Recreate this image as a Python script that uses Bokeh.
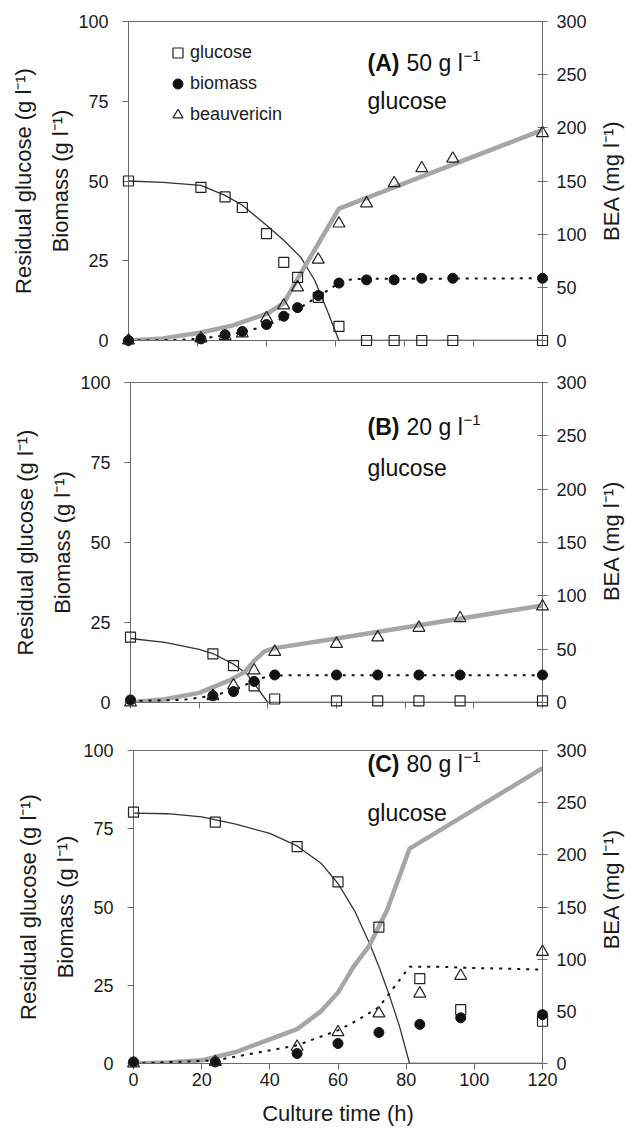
import math
from bokeh.plotting import figure
from bokeh.models import Range1d, LinearAxis, FixedTicker, Label, Legend, LegendItem
from bokeh.layouts import column, row
from bokeh.embed import file_html
from bokeh.resources import INLINE

# ---------------- data ----------------
# Panel A (50 g/l glucose)
tA = [0, 21, 28, 33, 40, 45, 49, 55, 61, 69, 77, 85, 94, 120]
glcA = [50, 48, 45, 41.7, 33.5, 24.5, 19.8, 13.5, 4.4, 0, 0, 0, 0, 0]
bioA = [0, 0.5, 1.8, 2.8, 5, 7.6, 10.3, 14.1, 18, 19, 19, 19.5, 19.5, 19.5]
beaA = [0, 2, 4, 6.6, 21, 33, 50, 76, 110, 129, 148, 162, 171, 195]
mA_glc_t = [0, 10, 21, 28, 33, 40, 45, 50, 54, 57.6, 61, 120]
mA_glc = [50, 49.6, 48.6, 45.5, 42.4, 36.1, 31.4, 26, 18.8, 9.4, 0, 0]
mA_bio_t = [0, 15, 21, 28, 33, 40, 45, 49, 55, 61, 65, 120]
mA_bio = [0, 0.2, 0.6, 1.6, 2.6, 4.6, 7.2, 9.8, 13.8, 18, 19.3, 19.5]
mA_bea_t = [0, 10, 21, 30, 40, 45, 49, 55, 61, 120]
mA_bea = [0, 2, 7.5, 14, 25, 35, 58, 91, 124, 198]

# Panel B (20 g/l glucose)
tB = [0, 24, 30, 36, 42, 60, 72, 84, 96, 120]
glcB = [20.4, 15.2, 11.5, 5.2, 1.1, 0.5, 0.5, 0.5, 0.5, 0.5]
bioB = [0.8, 2.1, 3.4, 6.6, 8.6, 8.6, 8.6, 8.6, 8.6, 8.6]
beaB = [0, 6, 16, 30, 47.5, 55, 61, 70, 79, 90]
mB_glc_t = [0, 10, 20, 24, 30, 34, 37, 40, 120]
mB_glc = [20, 18.8, 16.6, 15.3, 12, 8.8, 4.5, 0, 0]
mB_bio_t = [0, 15, 20, 24, 30, 36, 40, 45, 120]
mB_bio = [0.5, 0.8, 1.5, 2.2, 3.8, 6.8, 8.2, 8.5, 8.5]
mB_bea_t = [0, 10, 20, 29, 33, 36, 39, 42, 60, 120]
mB_bea = [0, 3, 9, 21, 28, 39, 48, 51, 60, 91]

# Panel C (80 g/l glucose)
tC = [0, 24, 48, 60, 72, 84, 96, 120]
glcC = [80.3, 77.1, 69.3, 58, 43.6, 27.1, 17.2, 13.5]
bioC = [0.5, 0.5, 3.2, 6.4, 9.9, 12.5, 14.6, 15.6]
beaC = [0, 1.5, 16, 30, 48, 67, 84, 107]
mC_glc_t = [0, 10, 20, 30, 40, 48, 55, 60, 65, 69, 72, 75, 78, 80, 81, 120]
mC_glc = [80, 79.8, 78.8, 76.5, 73.5, 69.5, 64, 57.5, 48.5, 39, 31, 22, 12, 4, 0, 0]
mC_bio_t = [0, 24, 48, 60, 66, 72, 78, 81, 90, 100, 110, 120]
mC_bio = [0, 1, 5.8, 10.6, 14, 18, 26.6, 30.9, 30.9, 30.5, 30.3, 30]
mC_bea_t = [0, 10, 20, 30, 39, 48, 55, 60, 64.6, 69, 74.4, 81, 120]
mC_bea = [0, 1, 3, 11, 22, 33, 50, 68, 93, 112, 147, 206, 283]

x_ticks = [0, 20, 40, 60, 80, 100, 120]
left_ticks = [0, 25, 50, 75, 100]
right_ticks = [0, 50, 100, 150, 200, 250, 300]

FONT = "Liberation Sans"
SUP = "\u207b\u00b9"
AXC = "#6a6a6a"
TXT = "#1a1a1a"
W_MAIN = 597
W_LAB = 28
FRAME_RIGHT = 542


def label_strip(height, mt, mb):
    """Narrow strip holding the right-hand axis title, reading bottom-to-top."""
    s = figure(width=W_LAB, height=height, x_range=Range1d(0, 1), y_range=Range1d(0, 1),
               output_backend="svg", toolbar_location=None,
               x_axis_location=None, y_axis_location=None, min_border=0)
    s.outline_line_color = None
    s.grid.visible = False
    s.background_fill_color = "white"
    s.border_fill_color = "white"
    fh = height - mt - mb
    yc = 1 - (mt + fh / 2.0) / height
    s.add_layout(Label(x=0.5, y=yc, text="BEA (mg l" + SUP + ")", angle=math.pi / 2,
                       text_font=FONT, text_font_size="22px", text_align="center",
                       text_baseline="middle", text_color=TXT))
    return s


def panel(height, ml, mt, mb, t, glc, bio, bea, mg_t, mg, mb_t, mbio, me_t, mbea,
          tag, conc, show_x, ytag, yglc, legend=False):
    p = figure(width=W_MAIN, height=height, x_range=Range1d(0, 120), y_range=Range1d(0, 100),
               output_backend="svg", toolbar_location=None,
               min_border_left=ml, min_border_right=W_MAIN - FRAME_RIGHT,
               min_border_top=mt, min_border_bottom=mb)
    p.extra_y_ranges = {"bea": Range1d(0, 300)}
    p.grid.visible = False
    p.outline_line_color = AXC
    p.background_fill_color = "white"
    p.border_fill_color = "white"

    xa = p.xaxis[0]
    xa.ticker = FixedTicker(ticks=x_ticks)
    xa.minor_tick_line_color = None
    xa.major_tick_in = 0
    xa.major_tick_out = 6
    xa.axis_line_color = AXC
    xa.major_tick_line_color = AXC
    xa.major_label_text_font = FONT
    xa.major_label_text_color = TXT
    xa.major_label_text_font_size = "18px"
    if show_x:
        xa.major_label_standoff = 3
        xa.axis_label = "Culture time (h)"
        xa.axis_label_text_font = FONT
        xa.axis_label_text_font_size = "22px"
        xa.axis_label_text_font_style = "normal"
        xa.axis_label_text_color = TXT
        xa.axis_label_standoff = 12
    else:
        xa.major_label_overrides = {v: "" for v in x_ticks}
        xa.major_label_standoff = 0

    ya = p.yaxis[0]
    ya.ticker = FixedTicker(ticks=left_ticks)
    ya.minor_tick_line_color = None
    ya.major_tick_in = 0
    ya.major_tick_out = 6
    ya.axis_line_color = AXC
    ya.major_tick_line_color = AXC
    ya.major_label_text_font = FONT
    ya.major_label_text_font_size = "18px"
    ya.major_label_text_color = TXT
    ya.major_label_standoff = 14
    ya.axis_label = "Biomass (g l" + SUP + ")"
    ya.axis_label_text_font = FONT
    ya.axis_label_text_font_size = "22px"
    ya.axis_label_text_font_style = "normal"
    ya.axis_label_text_color = TXT
    ya.axis_label_standoff = 2

    ya2 = LinearAxis(ticker=FixedTicker(ticks=[]), axis_line_color=None,
                     major_tick_line_color=None, minor_tick_line_color=None,
                     major_label_standoff=0, major_tick_out=0, major_tick_in=0,
                     axis_label="Residual glucose (g l" + SUP + ")",
                     axis_label_text_font=FONT, axis_label_text_font_size="22px",
                     axis_label_text_font_style="normal", axis_label_text_color=TXT,
                     axis_label_standoff=10)
    p.add_layout(ya2, "left")

    ra = LinearAxis(y_range_name="bea", ticker=FixedTicker(ticks=right_ticks),
                    minor_tick_line_color=None, major_tick_in=5, major_tick_out=5,
                    axis_line_color=AXC, major_tick_line_color=AXC,
                    major_label_text_font=FONT, major_label_text_font_size="18px",
                    major_label_text_color=TXT, major_label_standoff=9)
    p.add_layout(ra, "right")

    # model curves
    p.line(mg_t, mg, line_color="#333333", line_width=1.3)
    p.line(me_t, mbea, y_range_name="bea", line_color="#a6a6a6", line_width=4.5)
    p.line(mb_t, mbio, line_color="#111111", line_width=2, line_dash="3 6")

    # measured points
    sq = p.scatter(t, glc, marker="square", size=10, line_color="#222222", line_width=1.2,
                   fill_color=None, level="overlay")
    ci = p.scatter(t, bio, marker="circle", size=10, line_color="#111111",
                   fill_color="#111111", level="overlay")
    tr = p.scatter(t, bea, y_range_name="bea", marker="triangle", size=12,
                   line_color="#222222", line_width=1.2, fill_color=None, level="overlay")

    # annotation text, positioned by page pixel converted to data x
    scale = (FRAME_RIGHT - ml) / 120.0
    x_tag = (367 - ml) / scale
    x_conc = (406 - ml) / scale
    x_sup = (463 - ml) / scale
    p.add_layout(Label(x=x_tag, y=ytag, text=tag, text_font=FONT, text_font_size="23px",
                       text_font_style="bold", text_baseline="middle", text_color="#111111"))
    p.add_layout(Label(x=x_conc, y=ytag, text=conc + " g l", text_font=FONT,
                       text_font_size="23px", text_baseline="middle", text_color="#111111"))
    p.add_layout(Label(x=x_sup, y=ytag + 2.2, text="\u22121", text_font=FONT,
                       text_font_size="15px", text_baseline="middle", text_color="#111111"))
    p.add_layout(Label(x=x_tag, y=yglc, text="glucose", text_font=FONT, text_font_size="23px",
                       text_baseline="middle", text_color="#111111"))

    if legend:
        lg = Legend(items=[LegendItem(label="glucose", renderers=[sq]),
                           LegendItem(label="biomass", renderers=[ci]),
                           LegendItem(label="beauvericin", renderers=[tr])],
                    location=(37, 213), orientation="vertical",
                    label_text_font=FONT, label_text_font_size="18px",
                    label_text_color=TXT,
                    glyph_width=25, glyph_height=25, label_height=25, label_standoff=0,
                    spacing=6, padding=0, margin=0,
                    border_line_color=None, background_fill_alpha=0)
        p.add_layout(lg)
    return row(p, label_strip(height, mt, mb), spacing=0)


rA = panel(362, 128, 21, 22, tA, glcA, bioA, beaA, mA_glc_t, mA_glc, mA_bio_t, mA_bio,
           mA_bea_t, mA_bea, "(A)", "50", False, 87.1, 75.2, legend=True)
rB = panel(364, 130, 20, 24, tB, glcB, bioB, beaB, mB_glc_t, mB_glc, mB_bio_t, mB_bio,
           mB_bea_t, mB_bea, "(B)", "20", False, 86.0, 73.4)
rC = panel(408, 133, 24, 71, tC, glcC, bioC, beaC, mC_glc_t, mC_glc, mC_bio_t, mC_bio,
           mC_bea_t, mC_bea, "(C)", "80", True, 95.8, 79.9)

layout = column(rA, rB, rC, spacing=0)
open("out.html", "w").write(file_html(layout, INLINE))
